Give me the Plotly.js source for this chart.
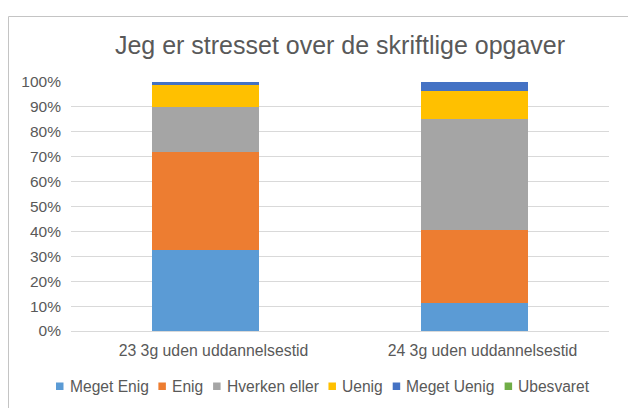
<!DOCTYPE html>
<html>
<head>
<meta charset="utf-8">
<script src="https://cdn.plot.ly/plotly-3.0.1.min.js"></script>
<style>
  html, body { margin: 0; padding: 0; background: #ffffff; }
  #chart { width: 628px; height: 408px; }
</style>
</head>
<body>
<div id="chart"></div>
<script>
// ---- Data (percent of respondents) ----
const categories = ["23 3g uden uddannelsestid", "24 3g uden uddannelsestid"];
const seriesNames = ["Meget Enig", "Enig", "Hverken eller", "Uenig", "Meget Uenig", "Ubesvaret"];
const megetEnig   = [32.4, 11.1];
const enig        = [39.4, 29.6];
const hverken     = [18.3, 44.4];
const uenig       = [8.5, 11.1];
const megetUenig  = [1.4, 3.7];
const ubesvaret   = [0, 0];
const yTickVals   = [0, 10, 20, 30, 40, 50, 60, 70, 80, 90, 100];
const yTickText   = ["0%", "10%", "20%", "30%", "40%", "50%", "60%", "70%", "80%", "90%", "100%"];
const titleText   = "Jeg er stresset over de skriftlige opgaver";

// ---- Styles ----
const seriesValues = [megetEnig, enig, hverken, uenig, megetUenig, ubesvaret];
const colors = ["#5b9bd5", "#ed7d31", "#a5a5a5", "#ffc000", "#4472c4", "#70ad47"];
const textColor = "#595959";
const fontFamily = '"Liberation Sans", Arial, Helvetica, sans-serif';

const W = 628, H = 408;
const M = { l: 71, r: 19, t: 82, b: 77 };
const PW = W - M.l - M.r, PH = H - M.t - M.b;
const px2x = px => (px - M.l) / PW;
const py2y = py => (H - M.b - py) / PH;

const traces = seriesNames.map((name, i) => ({
  type: "bar",
  name: name,
  x: categories,
  y: seriesValues[i],
  marker: { color: colors[i], line: { width: 0 } },
  hoverinfo: "name+y"
}));

// Custom legend (tight spacing like the original)
const shapes = [];
const annotations = [];
const ctx = document.createElement("canvas").getContext("2d");
const legendFontSize = 15.6;
ctx.font = legendFontSize + 'px "Liberation Sans"';
let lx = 56;
seriesNames.forEach((name, i) => {
  shapes.push({
    type: "rect", xref: "paper", yref: "paper",
    x0: px2x(lx), x1: px2x(lx + 7.5), y0: py2y(390), y1: py2y(382.5),
    fillcolor: colors[i], line: { width: 0 }, layer: "above"
  });
  annotations.push({
    xref: "paper", yref: "paper", x: px2x(lx + 11.5), y: py2y(386),
    xanchor: "left", yanchor: "middle", showarrow: false, text: name,
    font: { family: fontFamily, size: legendFontSize, color: textColor }
  });
  lx += 13 + ctx.measureText(name).width + 10.5;
});

// Chart-area border
shapes.push({
  type: "rect", xref: "paper", yref: "paper",
  x0: px2x(8.5), x1: px2x(720), y0: py2y(16.5), y1: py2y(480),
  line: { color: "#c4c4c4", width: 1 }, fillcolor: "rgba(0,0,0,0)", layer: "below"
});

const layout = {
  width: W, height: H,
  margin: M,
  paper_bgcolor: "#ffffff",
  plot_bgcolor: "#ffffff",
  barmode: "stack",
  barnorm: "percent",
  bargap: 0.6,
  showlegend: false,
  font: { family: fontFamily, color: textColor, size: 15.5 },
  title: {
    text: titleText,
    font: { family: fontFamily, size: 25, color: textColor },
    x: 0.5, xref: "paper", xanchor: "center",
    y: 1 - 45 / H, yref: "container", yanchor: "middle"
  },
  xaxis: {
    type: "category",
    showgrid: false,
    showline: false,
    zeroline: false,
    ticks: "",
    ticklabelstandoff: 8,
    ticklabelshift: 8,
    tickfont: { family: fontFamily, size: 15.8, color: textColor },
    fixedrange: true
  },
  yaxis: {
    range: [0, 100],
    tickvals: yTickVals,
    ticktext: yTickText,
    showgrid: true,
    gridcolor: "#d9d9d9",
    gridwidth: 1,
    zeroline: true,
    zerolinecolor: "#d9d9d9",
    zerolinewidth: 1,
    showline: false,
    ticks: "",
    ticklabelstandoff: 9,
    tickfont: { family: fontFamily, size: 15.5, color: textColor },
    fixedrange: true
  },
  shapes: shapes,
  annotations: annotations
};

Plotly.newPlot("chart", traces, layout, { displayModeBar: false, staticPlot: true });
</script>
</body>
</html>
